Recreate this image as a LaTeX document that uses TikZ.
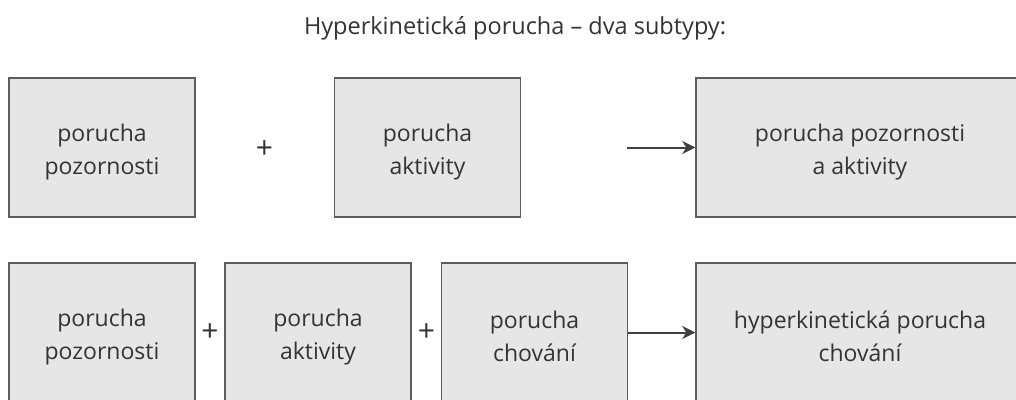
\documentclass[tikz,border=0pt]{standalone}
\usepackage{fontspec}
\setmainfont{Open Sans}
\usetikzlibrary{arrows.meta}
\definecolor{boxfill}{HTML}{E6E6E6}
\definecolor{boxline}{HTML}{5C5C5C}
\definecolor{txt}{HTML}{333333}
\begin{document}
\begin{tikzpicture}[
        x=1pt, y=-1pt,
        box/.style={draw=boxline, fill=boxfill, line width=1.5pt,
            minimum height=139pt, inner sep=0pt, align=center,
            text=txt, font=\fontsize{23}{33}\selectfont,
            text height=59pt},
        smallbox/.style={box, minimum width=186pt},
        widebox/.style={box, minimum width=328pt},
        plus/.style={text=txt, font=\fontsize{30}{32}\selectfont},
        arr/.style={-{Stealth[length=13pt, width=13pt, inset=4pt]}, line width=2pt, draw=black!75}
    ]

        \useasboundingbox (0,0) rectangle (1016,399);

        %----- TITLE -----
        \node[text=txt, font=\fontsize{23.5}{28}\selectfont] (title) at (515,28)
            {Hyperkinetická porucha – dva subtypy:};

        %----- FIRST SUBTYPE -----
        \node[smallbox] (poz1) at (102,147.5) {porucha\\pozornosti};
        \node[smallbox] (akt1) at (427.5,147.5) {porucha\\aktivity};
        \node[widebox] (res1) at (860,147.5) {porucha pozornosti\\a aktivity};
        \node[plus] (plus1) at (264.5,150) {+};
        \coordinate (start1) at (627,147.5);
        \draw[arr] (start1) -- (res1.west);

        %----- SECOND SUBTYPE -----
        \node[smallbox] (poz2) at (102,332.5) {porucha\\pozornosti};
        \node[smallbox] (akt2) at (318,332.5) {porucha\\aktivity};
        \node[smallbox] (cho2) at (534.5,332.5) {porucha\\chování};
        \node[widebox] (res2) at (860,332.5) {hyperkinetická porucha\\chování};
        \node[plus] (plus2) at (210,333) {+};
        \node[plus] (plus3) at (426.5,333) {+};
        \draw[arr] (cho2.east) -- (res2.west);

\end{tikzpicture}
\end{document}
